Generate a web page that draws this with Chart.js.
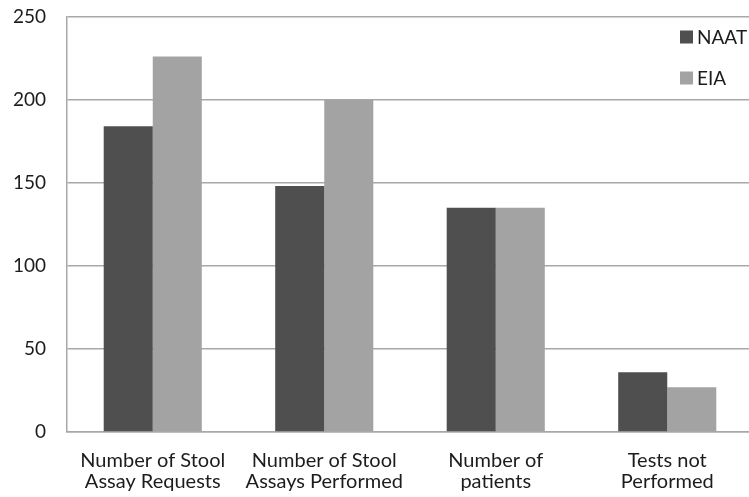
<!DOCTYPE html>
<html>
<head>
<meta charset="utf-8">
<script src="https://cdn.jsdelivr.net/npm/chart.js@4/dist/chart.umd.min.js"></script>
<style>
  html, body { margin: 0; padding: 0; background: #ffffff; overflow: hidden; }
  #wrap { position: relative; width: 753px; height: 497px; }
</style>
</head>
<body>
<div id="wrap"><canvas id="chart"></canvas></div>
<script>
// Test volumes by assay type
const categories = [
  ['Number of Stool', 'Assay Requests'],
  ['Number of Stool', 'Assays Performed'],
  ['Number of', 'patients'],
  ['Tests not', 'Performed']
];
const seriesNames = ['NAAT', 'EIA'];
const naatValues = [184, 148, 135, 36];
const eiaValues = [226, 200, 135, 27];
const yTicks = [0, 50, 100, 150, 200, 250];

const FONT = 'Lato, "Open Sans", sans-serif';
const TEXT = '#1c1c1c';
const GRID = '#a8a8a8';

// Stacked legend drawn in the upper-right corner of the plot
const cornerLegend = {
  id: 'cornerLegend',
  afterDraw(chart) {
    const ctx = chart.ctx;
    ctx.save();
    ctx.font = '19px ' + FONT;
    ctx.textBaseline = 'middle';
    ctx.textAlign = 'left';
    chart.data.datasets.forEach((ds, i) => {
      const cy = 37 + i * 41;
      ctx.fillStyle = ds.backgroundColor;
      ctx.fillRect(680, cy - 6.5, 13, 13);
      ctx.fillStyle = TEXT;
      ctx.fillText(ds.label, 697, cy + 1);
    });
    ctx.restore();
  }
};

new Chart(document.getElementById('chart'), {
  type: 'bar',
  data: {
    labels: categories,
    datasets: [
      { label: seriesNames[0], data: naatValues, backgroundColor: '#4f4f4f' },
      { label: seriesNames[1], data: eiaValues, backgroundColor: '#a3a3a3' }
    ]
  },
  options: {
    responsive: true,
    maintainAspectRatio: false,
    animation: false,
    layout: { padding: { left: 0, top: 16.5, right: 0, bottom: 0 } },
    datasets: { bar: { categoryPercentage: 0.572, barPercentage: 1.0 } },
    plugins: { legend: { display: false }, tooltip: { enabled: false } },
    scales: {
      x: {
        grid: { display: false, drawTicks: false },
        border: { display: true, color: GRID, width: 1.5 },
        ticks: {
          color: TEXT,
          font: { family: FONT, size: 20, lineHeight: 1.05 },
          padding: 18,
          maxRotation: 0,
          autoSkip: false
        },
        afterFit(scale) {
          scale.height = 65;
          scale.paddingLeft = 0;
          scale.paddingRight = 0;
        }
      },
      y: {
        min: 0,
        max: 250,
        afterBuildTicks(scale) { scale.ticks = yTicks.map(v => ({ value: v })); },
        grid: { color: GRID, lineWidth: 1.5, drawTicks: false },
        border: { display: true, color: GRID, width: 1.5 },
        ticks: {
          color: TEXT,
          font: { family: FONT, size: 19 },
          padding: 21
        },
        afterFit(scale) {
          scale.width = 67;
          scale.paddingTop = 0;
          scale.paddingBottom = 0;
        }
      }
    }
  },
  plugins: [cornerLegend]
});
</script>
</body>
</html>
